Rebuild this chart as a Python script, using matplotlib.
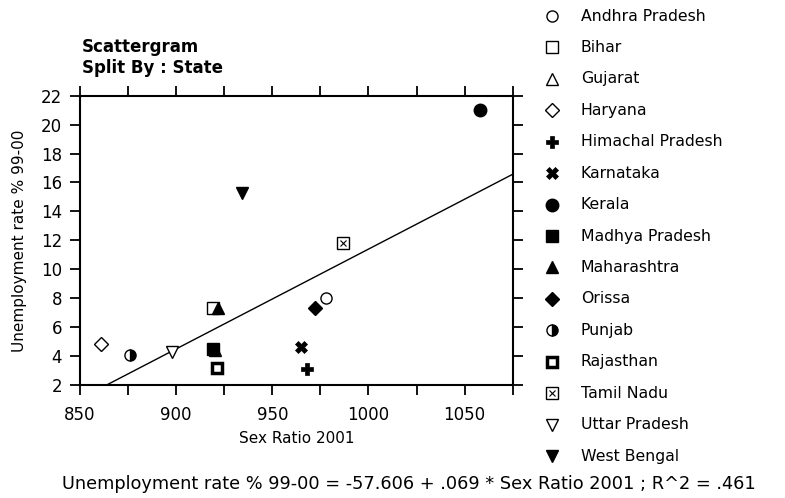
import matplotlib
matplotlib.use("Agg")
import matplotlib.pyplot as plt
import numpy as np

# Daten
states = ["Andhra Pradesh", "Bihar", "Gujarat", "Haryana", "Himachal Pradesh",
          "Karnataka", "Kerala", "Madhya Pradesh", "Maharashtra", "Orissa",
          "Punjab", "Rajasthan", "Tamil Nadu", "Uttar Pradesh", "West Bengal"]
sex_ratio = [978, 919, 920, 861, 968, 965, 1058, 919, 922, 972, 876, 921, 987, 898, 934]
unemployment = [8.0, 7.3, 4.4, 4.8, 3.1, 4.6, 21.0, 4.5, 7.3, 7.3, 4.1, 3.2, 11.8, 4.3, 15.3]

# Regressionskoeffizienten (aus der Fußzeile)
intercept = -57.606
slope = 0.069

x_ticks = [850, 875, 900, 925, 950, 975, 1000, 1025, 1050, 1075]
y_ticks = [2, 4, 6, 8, 10, 12, 14, 16, 18, 20, 22]

# Marker-Stile je Bundesstaat
styles = {
    "Andhra Pradesh": dict(marker="o", mfc="white", mec="black", mew=1.0),
    "Bihar": dict(marker="s", mfc="white", mec="black", mew=1.0),
    "Gujarat": dict(marker="^", mfc="white", mec="black", mew=1.0),
    "Haryana": dict(marker="D", mfc="white", mec="black", mew=1.0, ms=7),
    "Himachal Pradesh": dict(marker="P", mfc="black", mec="black", mew=0.5),
    "Karnataka": dict(marker="X", mfc="black", mec="black", mew=0.5),
    "Kerala": dict(marker="o", mfc="black", mec="black", mew=1.0, ms=9),
    "Madhya Pradesh": dict(marker="s", mfc="black", mec="black", mew=1.0),
    "Maharashtra": dict(marker="^", mfc="black", mec="black", mew=1.0),
    "Orissa": dict(marker="D", mfc="black", mec="black", mew=1.0, ms=7),
    "Punjab": dict(marker="o", mfc="black", mec="black", mew=1.0,
                   fillstyle="right", markerfacecoloralt="white"),
    "Rajasthan": dict(marker="s", mfc="white", mec="black", mew=2.5, ms=7),
    "Tamil Nadu": dict(marker="s", mfc="white", mec="black", mew=1.0),
    "Uttar Pradesh": dict(marker="v", mfc="white", mec="black", mew=1.0),
    "West Bengal": dict(marker="v", mfc="black", mec="black", mew=1.0, ms=9),
}


def draw_marker(ax, x, y, state, size=8):
    st = dict(styles[state])
    ms = st.pop("ms", size)
    ax.plot([x], [y], linestyle="none", ms=ms, clip_on=False, **st)
    if state == "Tamil Nadu":
        # Kreuz im Quadrat
        ax.plot([x], [y], linestyle="none", marker="x", ms=ms * 0.55,
                mec="black", mew=0.8, clip_on=False)


fig = plt.figure(figsize=(7.85, 4.98), dpi=100)
ax = fig.add_axes([80 / 785, 1 - 385 / 498, (512.7 - 80) / 785, (385 - 95.7) / 498])

ax.set_xlim(850, 1075)
ax.set_ylim(2, 22)

# Regressionsgerade
line_x = np.array([850, 1075])
ax.plot(line_x, intercept + slope * line_x, color="black", linewidth=1.0)

# Punkte
for s, xv, yv in zip(states, sex_ratio, unemployment):
    draw_marker(ax, xv, yv, s)

ax.set_xticks(x_ticks)
ax.set_xticklabels([str(t) if t % 50 == 0 else "" for t in x_ticks])
ax.set_yticks(y_ticks)
ax.tick_params(direction="out", length=7, width=1.3, top=True, right=True,
               labeltop=False, labelright=False, labelsize=12)
ax.tick_params(axis="x", pad=8)
ax.tick_params(axis="y", pad=6)
for sp in ax.spines.values():
    sp.set_linewidth(1.5)

ax.set_xlabel("Sex Ratio 2001", fontsize=11, labelpad=5)
ax.set_ylabel("Unemployment rate % 99-00", fontsize=11, labelpad=10)

# Titel
fig.text(82 / 785, 1 - 47 / 498, "Scattergram", fontsize=12, fontweight="bold",
         va="center", ha="left")
fig.text(82 / 785, 1 - 68 / 498, "Split By : State", fontsize=12, fontweight="bold",
         va="center", ha="left")

# Legende als eigene Achse
lax = fig.add_axes([0, 0, 1, 1], facecolor="none")
lax.set_xlim(0, 785)
lax.set_ylim(498, 0)
lax.axis("off")
rows = np.linspace(16, 456, len(states))
for s, yy in zip(states, rows):
    draw_marker(lax, 552, yy, s, size=8)
    lax.text(581, yy, s, fontsize=11.3, va="center", ha="left")

# Regressionsgleichung
fig.text(62 / 785, 1 - 484 / 498,
         "Unemployment rate % 99-00 = -57.606 + .069 * Sex Ratio 2001 ; R^2 = .461",
         fontsize=12.8, va="center", ha="left")

fig.savefig("out.png", dpi=100)
